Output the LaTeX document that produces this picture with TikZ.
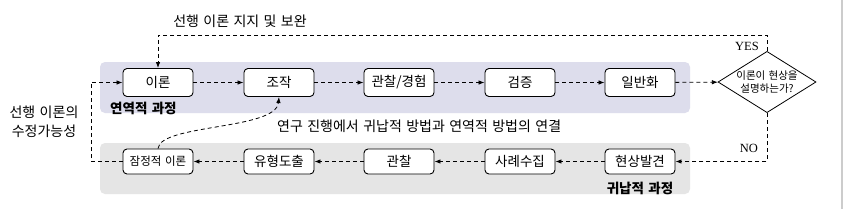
\documentclass[tikz,border=0pt]{standalone}
\usepackage{fontspec}
\setmainfont{Noto Sans CJK KR}[WordSpace=1.4]
\newfontfamily\serifyes{Liberation Serif}
\usetikzlibrary{arrows.meta,shapes.geometric}
\definecolor{bandtop}{RGB}{221,221,236}
\definecolor{bandbot}{RGB}{229,229,229}
\begin{document}
\begin{tikzpicture}[x=1pt,y=-1pt,
  stepbox/.style={draw=black, line width=0.9pt, rounded corners=4pt, fill=white,
    minimum width=70pt, minimum height=28pt, inner sep=0pt,
    font=\fontsize{13.5}{15}\selectfont},
  lowbox/.style={stepbox, minimum height=25pt},
  dashline/.style={dash pattern=on 4pt off 3pt, line width=0.8pt},
  arr/.style={dashline, -{Latex[length=6pt,width=4.5pt]}},
  lbl/.style={font=\fontsize{14}{18.5}\selectfont, inner sep=0pt},
  boldlbl/.style={font=\fontsize{13.5}{16}\selectfont\bfseries, inner sep=0pt},
  yn/.style={font=\serifyes\fontsize{12.5}{14}\selectfont, inner sep=0pt},
  decision/.style={draw=black, line width=0.8pt, diamond, aspect=1.6, inner sep=0pt,
    fill=white, align=center, font=\fontsize{10.5}{13.5}\selectfont}
]
\useasboundingbox (0,0) rectangle (861,209);
\fill[white] (0,0) rectangle (861,209);
\draw[line width=1.5pt, draw=black!20] (842,0) -- (842,209);
% bands
\fill[bandtop, rounded corners=5pt] (100,62) rectangle (690,113);
\fill[bandbot, rounded corners=5pt] (100,143) rectangle (690,194);
% top row
\node[stepbox] (ir) at (158,82.5) {이론};
\node[stepbox] (jo) at (279,82.5) {조작};
\node[stepbox] (gg) at (399,82.5) {관찰/경험};
\node[stepbox] (gj) at (520,82.5) {검증};
\node[stepbox] (il) at (640,82.5) {일반화};
\node[decision] (d) at (767,82) {이론이 현상을\\설명하는가?};
% bottom row
\node[lowbox, font=\fontsize{11.5}{14}\selectfont] (jt) at (158,161.5) {잠정적 이론};
\node[lowbox] (yh) at (279,161.5) {유형도출};
\node[lowbox] (gc) at (399,161.5) {관찰};
\node[lowbox] (sr) at (520,161.5) {사례수집};
\node[lowbox] (hs) at (640,161.5) {현상발견};
% flow
\draw[arr] (ir) -- (jo);
\draw[arr] (jo) -- (gg);
\draw[arr] (gg) -- (gj);
\draw[arr] (gj) -- (il);
\draw[arr] (il) -- (d);
\draw[arr] (hs) -- (sr);
\draw[arr] (sr) -- (gc);
\draw[arr] (gc) -- (yh);
\draw[arr] (yh) -- (jt);
% loops
\draw[arr] (d.north) -- ++(0,-16) -| (ir.north);
\draw[arr] (d.south) |- (hs.east);
\coordinate (lc) at (91,82.5);
\draw[arr] (jt.west) -| (lc) -- (ir.west);
\draw[arr] (jt.north) .. controls (160,124) and (276,130) .. (jo.south);
% labels
\node[lbl] (t1) at (240,21) {선행 이론 지지 및 보완};
\node[lbl, align=center] (t2) at (44,122) {선행 이론의\\수정가능성};
\node[lbl, anchor=west] (t3) at (277,126) {연구 진행에서 귀납적 방법과 연역적 방법의 연결};
\node[boldlbl, anchor=west] (b1) at (110,108) {연역적 과정};
\node[boldlbl] (b2) at (640,188) {귀납적 과정};
\node[yn, anchor=east] (yes) at (759,46.5) {YES};
\node[yn, anchor=east] (no) at (758,148) {NO};
\end{tikzpicture}
\end{document}
